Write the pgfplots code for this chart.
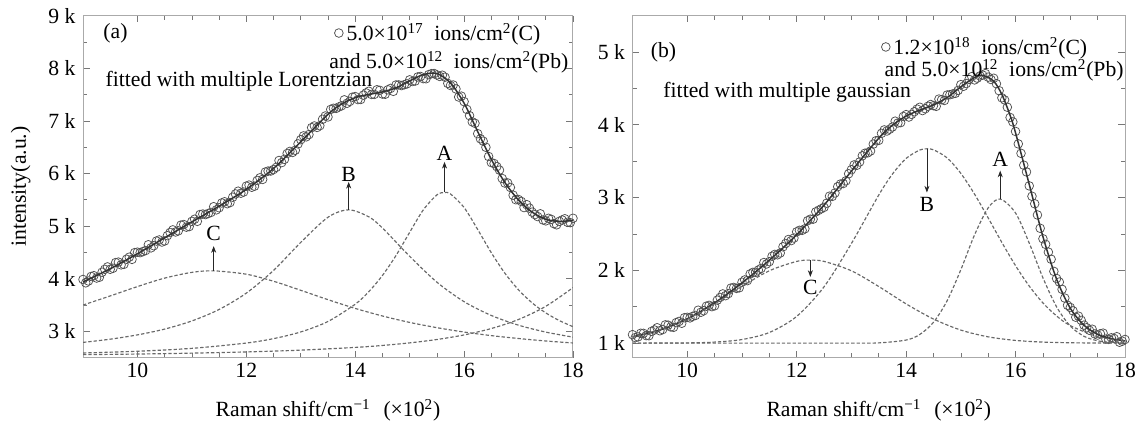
\documentclass[border=0pt]{standalone}
\usepackage{fontspec}
\setmainfont{Liberation Serif}
\usepackage{pgfplots}
\pgfplotsset{compat=1.18}
\usepackage{pgfplotstable}
\usetikzlibrary{arrows.meta}

\definecolor{framec}{RGB}{170,170,170}
\definecolor{datc}{RGB}{80,80,80}
\definecolor{dashc}{RGB}{105,105,105}
\newcommand{\figfont}{\fontsize{13}{15}\selectfont}

% (a) measured spectrum, two interleaved sets
\pgfplotstableread{
x y
9.0 3.986
9.1 3.957
9.2 4.058
9.3 4.028
9.4 4.179
9.5 4.180
9.6 4.307
9.7 4.264
9.8 4.371
9.9 4.368
10.0 4.505
10.1 4.516
10.2 4.646
10.3 4.627
10.4 4.737
10.5 4.718
10.6 4.879
10.7 4.889
10.8 5.020
10.9 4.980
11.0 5.091
11.1 5.091
11.2 5.230
11.3 5.240
11.4 5.369
11.5 5.349
11.6 5.463
11.7 5.448
11.8 5.612
11.9 5.626
12.0 5.760
12.1 5.739
12.2 5.868
12.3 5.888
12.4 6.047
12.5 6.076
12.6 6.247
12.7 6.269
12.8 6.420
12.9 6.442
13.0 6.643
13.1 6.697
13.2 6.872
13.3 6.876
13.4 7.031
13.5 7.075
13.6 7.240
13.7 7.265
13.8 7.400
13.9 7.370
14.0 7.462
14.1 7.407
14.2 7.532
14.3 7.503
14.4 7.592
14.5 7.510
14.6 7.591
14.7 7.562
14.8 7.684
14.9 7.687
15.0 7.780
15.1 7.757
15.2 7.844
15.3 7.801
15.4 7.897
15.5 7.873
15.6 7.868
15.7 7.713
15.8 7.682
15.9 7.454
16.0 7.366
16.1 7.100
16.2 6.954
16.3 6.660
16.4 6.499
16.5 6.208
16.6 6.132
16.7 5.905
16.8 5.821
16.9 5.588
17.0 5.505
17.1 5.353
17.2 5.342
17.3 5.219
17.4 5.234
17.5 5.100
17.6 5.128
17.7 5.025
17.8 5.117
17.9 5.073
18.0 5.149
9.05 3.922
9.15 4.043
9.25 4.013
9.35 4.124
9.45 4.225
9.55 4.199
9.65 4.316
9.75 4.273
9.85 4.410
9.95 4.497
10.05 4.496
10.15 4.536
10.25 4.587
10.35 4.717
10.45 4.698
10.55 4.819
10.65 4.929
10.75 4.910
10.85 5.030
10.95 4.991
11.05 5.131
11.15 5.221
11.25 5.220
11.35 5.260
11.45 5.309
11.55 5.441
11.65 5.426
11.75 5.550
11.85 5.664
11.95 5.648
12.05 5.780
12.15 5.759
12.25 5.918
12.35 6.028
12.45 6.047
12.55 6.117
12.65 6.208
12.75 6.380
12.85 6.401
12.95 6.563
13.05 6.715
13.15 6.740
13.25 6.904
13.35 6.909
13.45 7.093
13.55 7.218
13.65 7.238
13.75 7.288
13.85 7.335
13.95 7.451
14.05 7.405
14.15 7.490
14.25 7.563
14.35 7.503
14.45 7.581
14.55 7.506
14.65 7.617
14.75 7.683
14.85 7.671
14.95 7.704
15.05 7.749
15.15 7.836
15.25 7.803
15.35 7.879
15.45 7.900
15.55 7.846
15.65 7.831
15.75 7.673
15.85 7.608
15.95 7.470
16.05 7.218
16.15 6.982
16.25 6.757
16.35 6.615
16.45 6.324
16.55 6.190
16.65 6.064
16.75 5.818
16.85 5.735
16.95 5.502
17.05 5.469
17.15 5.408
17.25 5.266
17.35 5.182
17.45 5.117
17.55 5.149
17.65 5.047
17.75 5.091
17.85 5.140
17.95 5.066
}\dataA

% (b) measured spectrum, two interleaved sets
\pgfplotstableread{
x y
9.0 1.116
9.1 1.085
9.2 1.134
9.3 1.102
9.4 1.181
9.5 1.170
9.6 1.251
9.7 1.222
9.8 1.282
9.9 1.273
10.0 1.354
10.1 1.368
10.2 1.452
10.3 1.445
10.4 1.519
10.5 1.513
10.6 1.628
10.7 1.652
10.8 1.757
10.9 1.752
11.0 1.837
11.1 1.859
11.2 1.972
11.3 2.004
11.4 2.107
11.5 2.119
11.6 2.219
11.7 2.239
11.8 2.369
11.9 2.409
12.0 2.529
12.1 2.550
12.2 2.682
12.3 2.703
12.4 2.825
12.5 2.866
12.6 3.019
12.7 3.063
12.8 3.186
12.9 3.230
13.0 3.383
13.1 3.444
13.2 3.574
13.3 3.615
13.4 3.735
13.5 3.786
13.6 3.930
13.7 3.940
13.8 4.050
13.9 4.030
14.0 4.140
14.1 4.143
14.2 4.216
14.3 4.196
14.4 4.255
14.5 4.263
14.6 4.354
14.7 4.335
14.8 4.414
14.9 4.433
15.0 4.552
15.1 4.567
15.2 4.662
15.3 4.641
15.4 4.683
15.5 4.655
15.6 4.640
15.7 4.469
15.8 4.342
15.9 4.101
16.0 3.909
16.1 3.608
16.2 3.353
16.3 3.018
16.4 2.761
16.5 2.434
16.6 2.250
16.7 1.986
16.8 1.839
16.9 1.619
17.0 1.490
17.1 1.356
17.2 1.313
17.3 1.211
17.4 1.191
17.5 1.111
17.6 1.137
17.7 1.052
17.8 1.064
17.9 1.012
18.0 1.050
9.05 1.076
9.15 1.135
9.25 1.103
9.35 1.162
9.45 1.211
9.55 1.186
9.65 1.247
9.75 1.217
9.85 1.298
9.95 1.349
10.05 1.346
10.15 1.380
10.25 1.424
10.35 1.507
10.45 1.501
10.55 1.591
10.65 1.676
10.75 1.680
10.85 1.765
10.95 1.760
11.05 1.868
11.15 1.951
11.25 1.973
11.35 2.026
11.45 2.088
11.55 2.194
11.65 2.214
11.75 2.324
11.85 2.424
11.95 2.444
12.05 2.550
12.15 2.571
12.25 2.703
12.35 2.804
12.45 2.846
12.55 2.923
12.65 3.016
12.75 3.150
12.85 3.193
12.95 3.327
13.05 3.449
13.15 3.489
13.25 3.610
13.35 3.640
13.45 3.781
13.55 3.883
13.65 3.915
13.75 3.970
13.85 4.025
13.95 4.115
14.05 4.107
14.15 4.180
14.25 4.241
14.35 4.221
14.45 4.279
14.55 4.254
14.65 4.345
14.75 4.410
14.85 4.424
14.95 4.473
15.05 4.530
15.15 4.625
15.25 4.617
15.35 4.672
15.45 4.704
15.55 4.623
15.65 4.565
15.75 4.371
15.85 4.242
15.95 4.040
16.05 3.738
16.15 3.445
16.25 3.161
16.35 2.915
16.45 2.578
16.55 2.357
16.65 2.153
16.75 1.888
16.85 1.739
16.95 1.520
17.05 1.443
17.15 1.370
17.25 1.247
17.35 1.176
17.45 1.126
17.55 1.129
17.65 1.055
17.75 1.073
17.85 1.088
17.95 1.026
}\dataB

\pgfplotsset{
  raman/.style={
    scale only axis,
    height=205.2pt,
    xmin=9, xmax=18,
    xtick={10,12,14,16,18},
    xticklabels={10,12,14,16,18},
    minor x tick num=3,
    minor y tick num=1,
    tick align=inside,
    clip mode=individual,
    axis line style={framec, line width=0.6pt},
    every tick/.style={framec!70!black, line width=0.4pt},
    major tick length=4pt,
    minor tick length=2.5pt,
    tick label style={font=\figfont},
    label style={font=\figfont},
    yticklabel style={xshift=-1pt},
    xlabel={Raman shift/cm\textsuperscript{−1}\hspace{0.6em}(×10\textsuperscript{2})},
    xlabel style={at={(axis description cs:0.5,-0.153)}, anchor=center},
    legend style={draw=none, fill=none, inner sep=0pt, outer sep=0pt,
      font=\figfont, cells={anchor=west}},
    legend image code/.code={\draw[#1] plot coordinates {(0.1cm,0cm)};},
  },
  comp/.style={dashc, line width=0.7pt, dash pattern=on 2pt off 1.2pt,
    smooth, no markers, forget plot},
  fitl/.style={black!80, line width=0.9pt, smooth, no markers, forget plot},
  dots/.style={only marks, mark=o, mark size=2.6pt, datc, line width=0.45pt},
}

\begin{document}
\begin{tikzpicture}[every node/.append style={font=\figfont}]
\useasboundingbox (0,0) rectangle (687pt,259.2pt);

% ---------------- (a) ----------------
\begin{axis}[raman,
  at={(49.8pt,44.6pt)}, anchor=south west, width=294pt,
  ymin=2.5, ymax=9,
  ytick={3,4,5,6,7,8,9},
  yticklabels={3 k,4 k,5 k,6 k,7 k,8 k,9 k},
  ylabel={intensity(a.u.)},
  ylabel style={at={(axis description cs:-0.127,0.5)}, anchor=center},
  legend style={at={(axis cs:13.62,8.67)}, anchor=west},
]
\addplot[dots] table {\dataA};
\addlegendentry{5.0×10\textsuperscript{17}\hspace{0.5em}ions/cm\textsuperscript{2}(C)}
\addplot[fitl] coordinates {(9,3.936) (9.5,4.190) (10,4.475) (10.5,4.778) (11,5.081)
  (11.5,5.379) (12,5.700) (12.5,6.096) (13,6.603) (13.5,7.125) (13.75,7.320)
  (14,7.442) (14.25,7.504) (14.5,7.550) (14.75,7.628) (15,7.760) (15.25,7.880)
  (15.5,7.900) (15.75,7.720) (16,7.336) (16.25,6.796) (16.5,6.268) (16.75,5.827)
  (17,5.495) (17.25,5.266) (17.5,5.130) (17.75,5.090) (18,5.110)};
% C
\addplot[comp] coordinates {(9,3.500) (9.5,3.673) (10,3.851) (10.5,4.012) (11,4.121)
  (11.4,4.150) (12,4.086) (12.5,3.952) (13,3.780) (13.5,3.602) (14,3.436) (14.5,3.292)
  (15,3.170) (15.5,3.070) (16,2.987) (16.5,2.919) (17,2.864) (17.5,2.817) (18,2.779)};
% B
\addplot[comp] coordinates {(9,2.790) (9.5,2.851) (10,2.933) (10.5,3.043) (11,3.198)
  (11.5,3.416) (12,3.727) (12.5,4.158) (13,4.691) (13.5,5.169) (13.88,5.310)
  (14.25,5.176) (14.5,4.964) (15,4.427) (15.5,3.935) (16,3.564) (16.5,3.302)
  (17,3.117) (17.5,2.986) (18,2.890)};
% A
\addplot[comp] coordinates {(9,2.589) (10,2.622) (11,2.677) (12,2.778) (12.5,2.862)
  (13,2.989) (13.5,3.188) (14,3.516) (14.25,3.755) (14.5,4.062) (14.75,4.443)
  (15,4.882) (15.25,5.308) (15.5,5.593) (15.64,5.640) (15.75,5.611) (16,5.353)
  (16.25,4.935) (16.5,4.494) (16.75,4.104) (17,3.788) (17.25,3.541) (17.5,3.351)
  (17.75,3.204) (18,3.089)};
% high-wavenumber tail
\addplot[comp] coordinates {(9,2.557) (10,2.569) (11,2.586) (12,2.609) (13,2.643)
  (14,2.695) (14.5,2.732) (15,2.781) (15.5,2.845) (16,2.932) (16.5,3.054)
  (17,3.226) (17.5,3.476) (18,3.831)};

\draw[-{Stealth[length=4pt,width=3pt]}, black!85] (axis cs:11.4,4.15) -- (axis cs:11.4,4.62);
\node at (axis cs:11.4,4.87) {C};
\draw[-{Stealth[length=4pt,width=3pt]}, black!85] (axis cs:13.88,5.31) -- (axis cs:13.88,5.84);
\node at (axis cs:13.88,5.98) {B};
\draw[-{Stealth[length=4pt,width=3pt]}, black!85] (axis cs:15.64,5.64) -- (axis cs:15.64,6.22);
\node at (axis cs:15.64,6.39) {A};

\node[anchor=west, inner sep=0pt] at (axis cs:9.37,8.67) {(a)};
\node[anchor=west, inner sep=0pt] at (axis cs:9.41,7.75) {fitted with multiple Lorentzian};
\node[anchor=east, inner sep=0pt] at (axis cs:17.92,8.12)
  {and 5.0×10\textsuperscript{12}\hspace{0.5em}ions/cm\textsuperscript{2}(Pb)};
\end{axis}

% ---------------- (b) ----------------
\begin{axis}[raman,
  at={(379.5pt,44.6pt)}, anchor=south west, width=295.5pt,
  ymin=0.8, ymax=5.5,
  ytick={1,2,3,4,5},
  yticklabels={1 k,2 k,3 k,4 k,5 k},
  legend style={at={(axis cs:13.55,5.07)}, anchor=west},
]
\addplot[dots] table {\dataB};
\addlegendentry{1.2×10\textsuperscript{18}\hspace{0.5em}ions/cm\textsuperscript{2}(C)}
\addplot[fitl] coordinates {(9,1.086) (9.5,1.180) (10,1.334) (10.5,1.553) (11,1.827)
  (11.5,2.139) (12,2.489) (12.5,2.896) (13,3.363) (13.5,3.816) (13.75,3.994)
  (14,4.120) (14.25,4.202) (14.5,4.273) (14.75,4.375) (15,4.522) (15.25,4.650)
  (15.4,4.680) (15.6,4.600) (15.75,4.417) (15.9,4.131) (16,3.889) (16.25,3.181)
  (16.5,2.464) (16.75,1.879) (17,1.480) (17.25,1.246) (17.5,1.121) (17.75,1.060)
  (18,1.030)};
% C
\addplot[comp] coordinates {(9,1.086) (9.5,1.179) (10,1.331) (10.5,1.539) (11,1.778)
  (11.5,1.994) (12,2.123) (12.25,2.140) (12.5,2.123) (13,1.994) (13.5,1.778)
  (14,1.539) (14.5,1.331) (15,1.179) (15.5,1.086) (16,1.037) (16.5,1.014)
  (17,1.005) (17.5,1.001) (18,1.000)};
% B
\addplot[comp] coordinates {(9,1.000) (10,1.003) (10.5,1.014) (11,1.049) (11.5,1.146)
  (12,1.367) (12.5,1.774) (13,2.369) (13.5,3.035) (13.75,3.323) (14,3.538)
  (14.25,3.654) (14.38,3.670) (14.5,3.657) (14.75,3.545) (15,3.333) (15.25,3.048)
  (15.5,2.720) (15.75,2.383) (16,2.064) (16.25,1.784) (16.5,1.552) (16.75,1.373)
  (17,1.241) (17.5,1.088) (18,1.027)};
% A
\addplot[comp] coordinates {(9,1.000) (11,1.000) (13,1.000) (13.5,1.003) (14,1.042)
  (14.25,1.119) (14.5,1.286) (14.75,1.583) (15,2.009) (15.25,2.486) (15.5,2.859)
  (15.72,2.980) (16,2.788) (16.25,2.374) (16.5,1.898) (16.75,1.498) (17,1.235)
  (17.25,1.094) (17.5,1.032) (17.75,1.009) (18,1.002)};

\draw[-{Stealth[length=4pt,width=3pt]}, black!85] (axis cs:12.25,2.14) -- (axis cs:12.25,1.91);
\node at (axis cs:12.25,1.76) {C};
\draw[-{Stealth[length=4pt,width=3pt]}, black!85] (axis cs:14.38,3.67) -- (axis cs:14.38,3.07);
\node at (axis cs:14.38,2.91) {B};
\draw[-{Stealth[length=4pt,width=3pt]}, black!85] (axis cs:15.72,2.98) -- (axis cs:15.72,3.37);
\node at (axis cs:15.72,3.53) {A};

\node[anchor=west, inner sep=0pt] at (axis cs:9.33,5.0) {(b)};
\node[anchor=west, inner sep=0pt] at (axis cs:9.56,4.45) {fitted with multiple gaussian};
\node[anchor=east, inner sep=0pt] at (axis cs:17.98,4.75)
  {and 5.0×10\textsuperscript{12}\hspace{0.5em}ions/cm\textsuperscript{2}(Pb)};
\end{axis}
\end{tikzpicture}
\end{document}
